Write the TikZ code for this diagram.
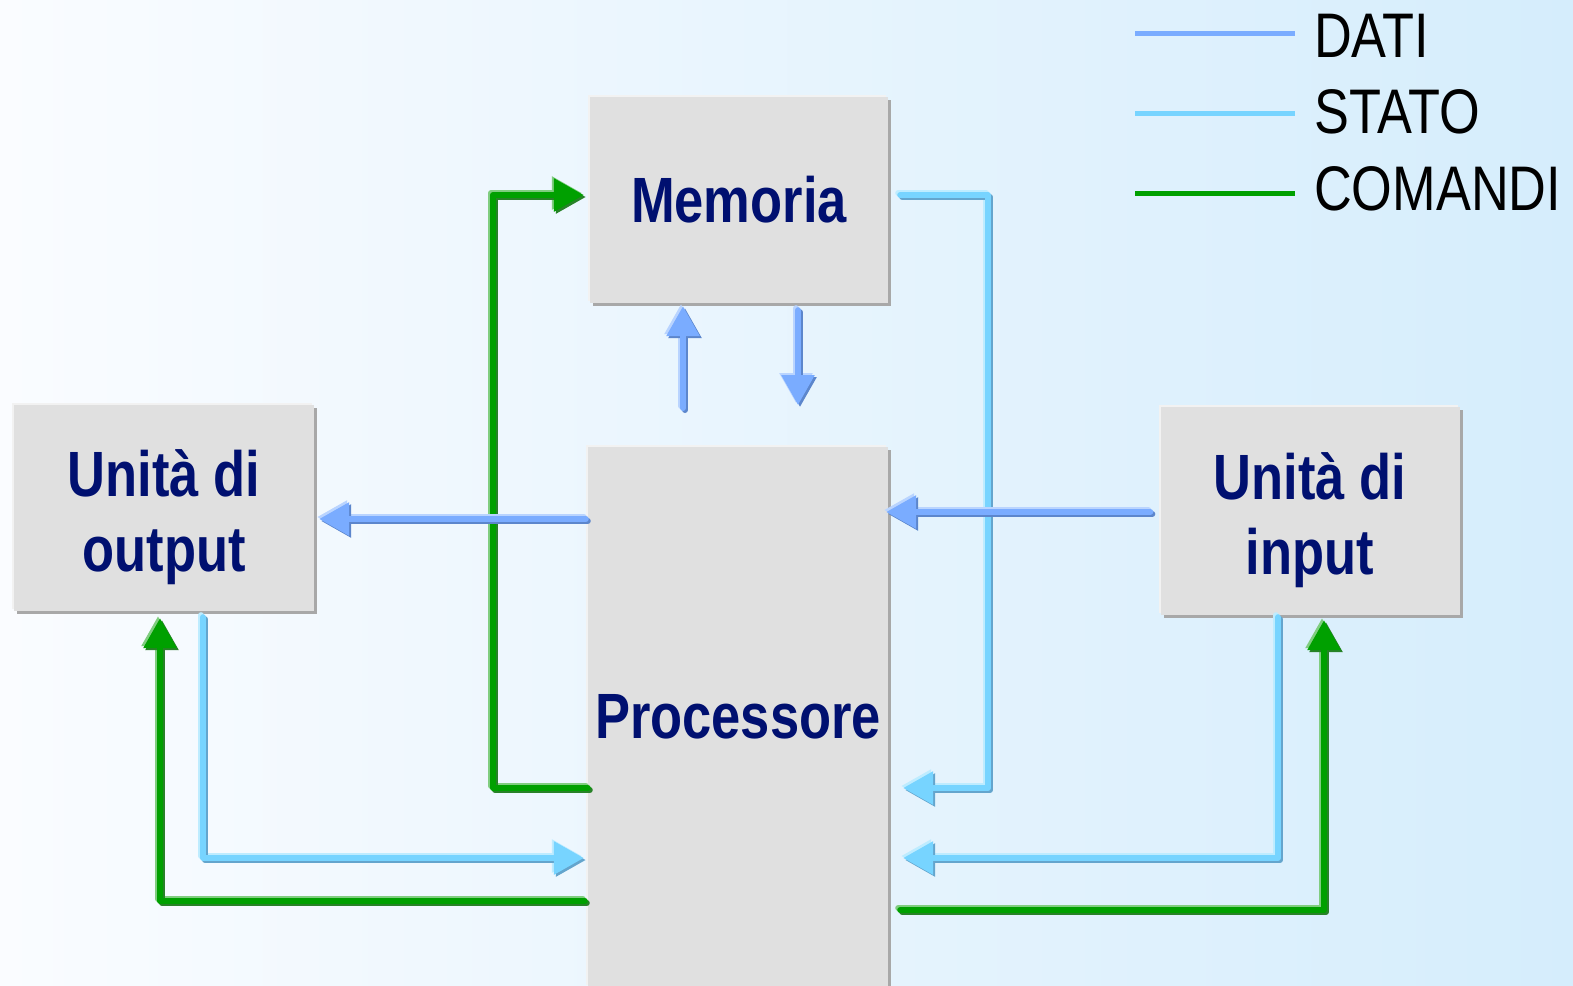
\documentclass[tikz,border=0pt]{standalone}
\usepackage{fontspec}
\setmainfont{Liberation Sans}
\newfontfamily\boxfont[FakeStretch=0.82]{Liberation Sans}
\newfontfamily\legfont[FakeStretch=0.83]{Liberation Sans}
\usetikzlibrary{arrows.meta,shadows,calc}
\definecolor{bgL}{RGB}{250,252,255}
\definecolor{bgR}{RGB}{213,237,252}
\definecolor{boxfill}{RGB}{224,224,224}
\definecolor{boxshadow}{RGB}{168,168,168}
\definecolor{boxlight}{RGB}{242,242,242}
\definecolor{navy}{RGB}{0,16,112}
\definecolor{datiC}{RGB}{122,172,255}
\definecolor{datiL}{RGB}{185,212,255}
\definecolor{datiD}{RGB}{92,134,204}
\definecolor{statoC}{RGB}{119,212,255}
\definecolor{statoL}{RGB}{190,236,255}
\definecolor{statoD}{RGB}{100,165,205}
\definecolor{comC}{RGB}{0,160,0}
\definecolor{comL}{RGB}{128,205,128}
\definecolor{comD}{RGB}{40,130,40}
\tikzset{
  box/.style={draw=none, fill=boxfill, inner sep=0pt, text=navy, align=center,
    font=\boxfont\bfseries\fontsize{64}{75}\selectfont,
    general shadow={fill=boxlight, shadow xshift=-2pt, shadow yshift=2pt},
    general shadow={fill=boxshadow, shadow xshift=3pt, shadow yshift=-3pt}},
  wire/.style={line width=6pt, line cap=round, line join=round},
  arrowend/.style={-{Triangle[length=30pt,width=32pt]}},
  legline/.style={line width=5pt},
  legtext/.style={anchor=base west, inner sep=0pt, text=black,
    font=\legfont\fontsize{63}{70}\selectfont}
}
\newcommand\conn[5]{%
  \draw[wire,#2,#4,transform canvas={shift={(-2pt,2pt)}}] #5;
  \draw[wire,#3,#4,transform canvas={shift={(2pt,-2pt)}}] #5;
  \draw[wire,#1,#4] #5;}
\begin{document}
\begin{tikzpicture}[x=1pt,y=-1pt]
\useasboundingbox (0,0) rectangle (1573,985);
\clip (0,0) rectangle (1573,985);
\shade[left color=bgL, right color=bgR] (0,0) rectangle (1573,985);

% legend
\node[legtext] (legD) at (1314,57) {DATI};
\node[legtext] (legS) at (1314,133) {STATO};
\node[legtext] (legC) at (1314,210) {COMANDI};
\draw[legline,datiC] (1135,33) -- (1295,33);
\draw[legline,statoC] (1135,113) -- (1295,113);
\draw[legline,comC] (1135,193) -- (1295,193);

% boxes
\node[box, minimum width=298pt, minimum height=206pt] (mem) at (739,200) {Memoria};
\node[box, minimum width=300pt, minimum height=540pt] (proc) at (738,717) {Processore};
\node[box, minimum width=300pt, minimum height=206pt] (out) at (164,508) {\rule{0pt}{66pt}Unità di\\output};
\node[box, minimum width=299pt, minimum height=208pt] (in) at (1310,511) {\rule{0pt}{66pt}Unità di\\input};

\coordinate (du) at (683,408);
\coordinate (dd) at (798,405);

% COMANDI to memory
\conn{comC}{comL}{comD}{arrowend,shorten >=6pt}{(proc.west |- 0,788) -- (493,788) -- (493,195) -- (mem.west |- 0,195)}
% DATI proc <-> memory
\conn{datiC}{datiL}{datiD}{arrowend,shorten >=3pt}{(du) -- (mem.south -| du)}
\conn{datiC}{datiL}{datiD}{arrowend,shorten <=7pt}{(mem.south -| dd) -- (dd)}
% STATO memory -> proc
\conn{statoC}{statoL}{statoD}{arrowend,shorten <=12pt,shorten >=15pt}{(mem.east |- 0,195) -- (988,195) -- (988,788) -- (proc.east |- 0,788)}
% DATI proc -> output
\conn{datiC}{datiL}{datiD}{arrowend,shorten <=2pt,shorten >=5pt}{(proc.west |- 0,519) -- (out.east |- 0,519)}
% DATI input -> proc
\conn{datiC}{datiL}{datiD}{arrowend,shorten <=10pt,shorten >=-2pt}{(in.west |- 0,512) -- (proc.east |- 0,512)}
% STATO output -> proc
\conn{statoC}{statoL}{statoD}{arrowend,shorten <=6pt,shorten >=4pt}{(out.south -| 203,0) -- (203,858) -- (proc.west |- 0,858)}
% COMANDI proc -> output
\conn{comC}{comL}{comD}{arrowend,shorten <=3pt,shorten >=7pt}{(proc.west |- 0,901) -- (160,901) -- (out.south -| 160,0)}
% STATO input -> proc
\conn{statoC}{statoL}{statoD}{arrowend,shorten <=2pt,shorten >=15pt}{(in.south -| 1278,0) -- (1278,858) -- (proc.east |- 0,858)}
% COMANDI proc -> input
\conn{comC}{comL}{comD}{arrowend,shorten <=12pt,shorten >=5pt}{(proc.east |- 0,910) -- (1324,910) -- (in.south -| 1324,0)}
\end{tikzpicture}
\end{document}
